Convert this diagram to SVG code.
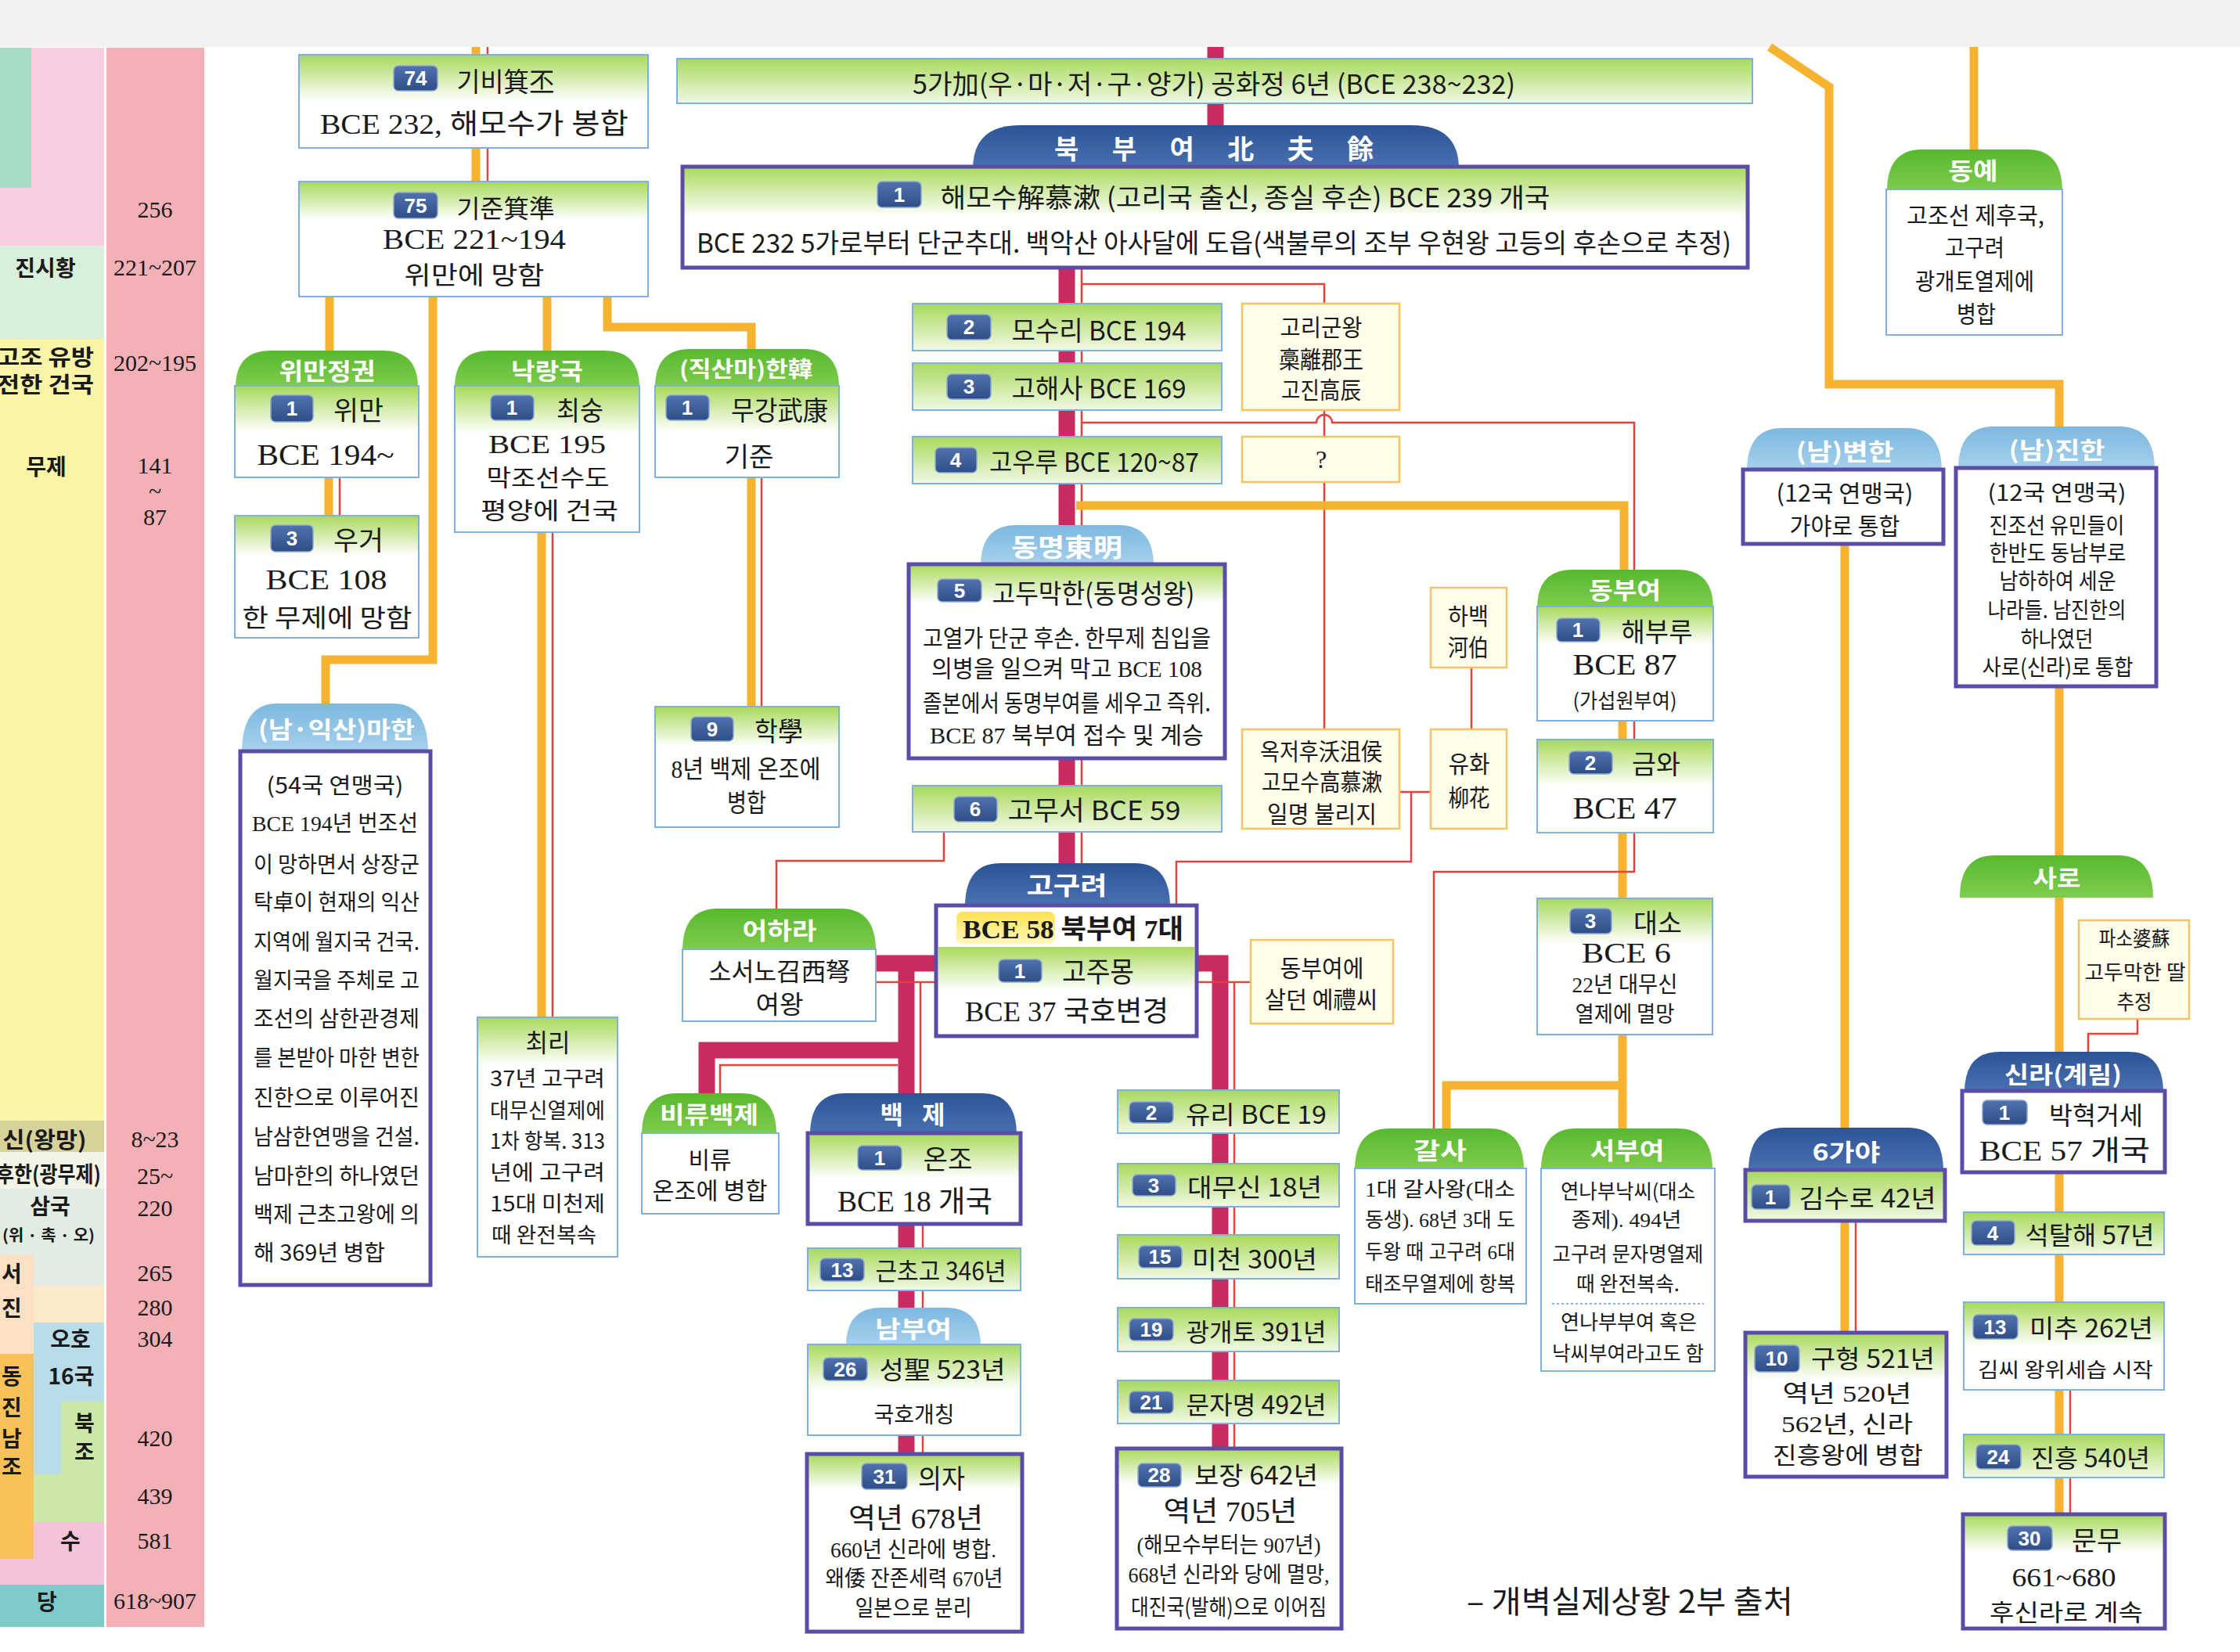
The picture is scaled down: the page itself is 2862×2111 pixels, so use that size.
<svg xmlns="http://www.w3.org/2000/svg" width="2862" height="2111" viewBox="0 0 2862 2111">
<style>
.or{fill:none;stroke:#F6B332;stroke-width:11}
.cr{fill:none;stroke:#C92A62;stroke-width:21}
.rd{fill:none;stroke:#E0443C;stroke-width:2.5}
.b{stroke:#7DAFDF;stroke-width:2}
.p{stroke:#5A4CA7;stroke-width:5}
.c{fill:#FFFCEA;stroke:#F3C463;stroke-width:2.5}
.tg{fill:url(#gTG)}
.tb{fill:url(#gTB)}
.tl{fill:url(#gTL)}
.bd{fill:url(#gBd);stroke:#8FA7D2;stroke-width:1.5}
text{font-family:"Noto Sans CJK KR","Noto Sans",sans-serif;fill:#1a1a1a;text-anchor:middle;dominant-baseline:central}
.sf{font-family:"Liberation Serif","Noto Sans CJK KR",serif}
.bt{font-family:"Liberation Sans",sans-serif;font-weight:bold;fill:#fff;font-size:26px}
.tt{fill:#fff;font-weight:bold}
.era{font-weight:bold;font-size:28px}
.yr{font-family:"Liberation Serif",serif;font-size:30px}
.st{text-anchor:start}
</style>
<defs>
<linearGradient id="gA" x1="0" y1="0" x2="0" y2="1"><stop offset="0" stop-color="#A9D95B"/><stop offset="1" stop-color="#F1F9E6"/></linearGradient>
<linearGradient id="gB" x1="0" y1="0" x2="0" y2="1"><stop offset="0" stop-color="#A9D95B"/><stop offset="0.5" stop-color="#FFFFFF"/></linearGradient>
<linearGradient id="gC" x1="0" y1="0" x2="0" y2="1"><stop offset="0" stop-color="#A9D95B"/><stop offset="0.33" stop-color="#FFFFFF"/></linearGradient>
<linearGradient id="gD" x1="0" y1="0" x2="0" y2="1"><stop offset="0" stop-color="#A9D95B"/><stop offset="0.2" stop-color="#FFFFFF"/></linearGradient>
<linearGradient id="gTG" x1="0" y1="0" x2="0" y2="1"><stop offset="0" stop-color="#57B92F"/><stop offset="1" stop-color="#80CC4C"/></linearGradient>
<linearGradient id="gTB" x1="0" y1="0" x2="0" y2="1"><stop offset="0" stop-color="#2D5496"/><stop offset="1" stop-color="#4A72B3"/></linearGradient>
<linearGradient id="gTL" x1="0" y1="0" x2="0" y2="1"><stop offset="0" stop-color="#7EB8E0"/><stop offset="1" stop-color="#A6D1EC"/></linearGradient>
<linearGradient id="gBd" x1="0" y1="0" x2="0" y2="1"><stop offset="0" stop-color="#5072AE"/><stop offset="1" stop-color="#2F4E88"/></linearGradient>
<linearGradient id="gY" x1="0" y1="0" x2="0" y2="1"><stop offset="0" stop-color="#FFE24F"/><stop offset="1" stop-color="#FFF7BC"/></linearGradient>
</defs>
<rect width="2862" height="2111" fill="#FFFFFF"/>
<rect width="2862" height="60" fill="#F2F2F2"/>

<g id="timeline">
<rect x="0" y="61" width="133" height="2018" fill="#FAF5A6"/>
<rect x="0" y="61" width="40" height="179" fill="#A5DCC5"/>
<rect x="40" y="61" width="93" height="179" fill="#F7CCDF"/>
<rect x="0" y="240" width="133" height="74" fill="#F7CCDF"/>
<rect x="0" y="314" width="133" height="119" fill="#D8EFDC"/>
<rect x="0" y="1432" width="133" height="40" fill="#D6D29A"/>
<rect x="0" y="1472" width="133" height="47" fill="#F3F3E6"/>
<rect x="0" y="1519" width="133" height="124" fill="#E2ECE2"/>
<rect x="0" y="1603" width="43" height="127" fill="#FBE0C4"/>
<rect x="43" y="1643" width="90" height="47" fill="#FBEAC8"/>
<rect x="43" y="1690" width="90" height="101" fill="#B9DDE8"/>
<rect x="43" y="1791" width="35" height="93" fill="#B9DDE8"/>
<rect x="78" y="1791" width="55" height="154" fill="#CBE8A6"/>
<rect x="43" y="1884" width="35" height="61" fill="#CBE8A6"/>
<rect x="0" y="1730" width="43" height="262" fill="#F9C15A"/>
<rect x="43" y="1945" width="90" height="80" fill="#F6C2D9"/>
<rect x="0" y="1992" width="43" height="33" fill="#F6C2D9"/>
<rect x="0" y="2025" width="133" height="54" fill="#7ECACB"/>
<rect x="136" y="61" width="125" height="2018" fill="#F3B0B6"/>
<text class="yr" x="198" y="267">256</text>
<text class="era" x="58" y="341">진시황</text>
<text class="yr" x="198" y="341">221~207</text>
<text class="era" x="58" y="455" font-size="22" textLength="124" lengthAdjust="spacingAndGlyphs">고조 유방</text>
<text class="era" x="58" y="490" font-size="22" textLength="124" lengthAdjust="spacingAndGlyphs">전한 건국</text>
<text class="yr" x="198" y="463">202~195</text>
<text class="era" x="59" y="595">무제</text>
<text class="yr" x="198" y="594">141</text>
<text class="yr" x="198" y="627" font-size="22">~</text>
<text class="yr" x="198" y="660">87</text>
<text class="era" x="57" y="1455" font-size="26" textLength="107" lengthAdjust="spacingAndGlyphs">신(왕망)</text>
<text class="yr" x="198" y="1455">8~23</text>
<text class="era" x="62" y="1499" font-size="26" textLength="134" lengthAdjust="spacingAndGlyphs">후한(광무제)</text>
<text class="yr" x="198" y="1502">25~</text>
<text class="era" x="64" y="1540" font-size="28">삼국</text>
<text class="yr" x="198" y="1543">220</text>
<text x="62" y="1577" font-size="20" font-weight="bold" textLength="118" lengthAdjust="spacingAndGlyphs">(위 · 촉 · 오)</text>
<text class="era" x="15" y="1626">서</text>
<text class="era" x="15" y="1670">진</text>
<text class="yr" x="198" y="1626">265</text>
<text class="yr" x="198" y="1670">280</text>
<text class="era" x="90" y="1710">오호</text>
<text class="yr" x="198" y="1710">304</text>
<text class="era" x="91" y="1757">16국</text>
<text class="era" x="15" y="1757">동</text>
<text class="era" x="15" y="1797">진</text>
<text class="era" x="15" y="1837">남</text>
<text class="era" x="15" y="1873">조</text>
<text class="era" x="108" y="1817">북</text>
<text class="era" x="108" y="1854">조</text>
<text class="yr" x="198" y="1837">420</text>
<text class="yr" x="198" y="1911">439</text>
<text class="era" x="90" y="1968">수</text>
<text class="yr" x="198" y="1968">581</text>
<text class="era" x="60" y="2045">당</text>
<text class="yr" x="198" y="2045">618~907</text>
</g>

<g id="connectors">
<path class="or" d="M608 60V70M608 189V232"/>
<path class="rd" d="M623 60V70M623 189V232"/>
<path class="or" d="M421 379V448"/>
<path class="or" d="M553 379V843H416V899"/>
<path class="or" d="M699 379V448"/>
<path class="or" d="M776 379V418H960V446"/>
<path class="or" d="M420 610V659"/>
<path class="rd" d="M434 610V659"/>
<path class="or" d="M692 680V1300"/>
<path class="rd" d="M706 680V1300"/>
<path class="or" d="M960 610V903"/>
<path class="rd" d="M973 610V903"/>
<path class="cr" d="M1553 60V75M1553 132V162"/>
<path class="cr" d="M1363 342V1105"/>
<path class="rd" d="M1382 342V1105"/>
<path class="rd" d="M1382 363H1692V388"/>
<path class="rd" d="M1692 524V558M1692 616V932"/>
<path class="rd" d="M1382 540H1682A10 10 0 0 1 1702 540H2088V730"/>
<path class="or" d="M1375 646H2075V730"/>
<path class="or" d="M2073 921V945"/>
<path class="rd" d="M2088 921V945"/>
<path class="or" d="M2073 1064V1442M2073 1387H1848V1442"/>
<path class="rd" d="M2088 1064V1114H1832V1442"/>
<path class="rd" d="M1880 853V932"/>
<path class="rd" d="M1788 1012H1828M1803 1012V1101H1503V1158"/>
<path class="rd" d="M1206 1063V1100H992V1161"/>
<path class="cr" d="M1196 1231H1119M1158 1231V1397M1158 1342H903V1397"/>
<path class="rd" d="M1119 1255H1196M1176 1255V1397M1147 1361H920V1397"/>
<path class="cr" d="M1529 1231H1559V1851"/>
<path class="rd" d="M1529 1255H1598M1577 1255V1851"/>
<path class="cr" d="M1158 1564V1858"/>
<path class="rd" d="M1179 1564V1858"/>
<path class="or" d="M2261 60L2337 111V491H2631V545"/>
<path class="or" d="M2522 60V191"/>
<path class="or" d="M2357 695V1441"/>
<path class="or" d="M2631 877V1935"/>
<path class="rd" d="M2731 1302V1321H2668V1344"/>
<path class="rd" d="M2645 1776V1935"/>
<path class="or" d="M2357 1560V1703"/>
<path class="rd" d="M2371 1560V1703"/>
</g>

<g id="n74">
<rect x="382" y="70" width="446" height="119" class="b" fill="url(#gB)"/>
<rect class="bd" x="503" y="84" width="56" height="32" rx="6"/><text class="bt" x="531" y="100">74</text>
<text x="646" y="102" font-size="34" textLength="125" lengthAdjust="spacingAndGlyphs">기비箕丕</text>
<text class="sf" x="606" y="159" font-size="36" textLength="394" lengthAdjust="spacingAndGlyphs">BCE 232, 해모수가 봉합</text>
</g>
<g id="n75">
<rect x="382" y="232" width="446" height="147" class="b" fill="url(#gC)"/>
<rect class="bd" x="503" y="246" width="56" height="33" rx="6"/><text class="bt" x="531" y="263">75</text>
<text x="646" y="264" font-size="32" textLength="125" lengthAdjust="spacingAndGlyphs">기준箕準</text>
<text class="sf" x="606" y="306" font-size="36" textLength="234" lengthAdjust="spacingAndGlyphs">BCE 221~194</text>
<text x="606" y="349" font-size="32" textLength="179" lengthAdjust="spacingAndGlyphs">위만에 망함</text>
</g>
<g id="n-wiman">
<path class="tg" d="M301 495Q301 448 346 448H489Q534 448 534 495Z"/>
<text class="tt" x="418" y="472" font-size="30" textLength="123" lengthAdjust="spacingAndGlyphs">위만정권</text>
<rect x="300" y="493" width="235" height="117" class="b" fill="url(#gB)"/>
<rect class="bd" x="346" y="505" width="54" height="34" rx="6"/><text class="bt" x="373" y="522">1</text>
<text x="458" y="522" font-size="34" textLength="64" lengthAdjust="spacingAndGlyphs">위만</text>
<text class="sf" x="416" y="581" font-size="38" textLength="175" lengthAdjust="spacingAndGlyphs">BCE 194~</text>
</g>
<g id="n-ugeo">
<rect x="300" y="659" width="235" height="156" class="b" fill="url(#gC)"/>
<rect class="bd" x="346" y="671" width="54" height="34" rx="6"/><text class="bt" x="373" y="688">3</text>
<text x="458" y="688" font-size="34" textLength="64" lengthAdjust="spacingAndGlyphs">우거</text>
<text class="sf" x="417" y="741" font-size="36" textLength="155" lengthAdjust="spacingAndGlyphs">BCE 108</text>
<text x="418" y="787" font-size="32" textLength="217" lengthAdjust="spacingAndGlyphs">한 무제에 망함</text>
</g>
<g id="n-nakrang">
<path class="tg" d="M581 495Q581 448 626 448H772Q817 448 817 495Z"/>
<text class="tt" x="699" y="472" font-size="30" textLength="92" lengthAdjust="spacingAndGlyphs">낙랑국</text>
<rect x="581" y="493" width="236" height="187" class="b" fill="url(#gC)"/>
<rect class="bd" x="627" y="505" width="55" height="32" rx="6"/><text class="bt" x="654" y="521">1</text>
<text x="741" y="522" font-size="34" textLength="60" lengthAdjust="spacingAndGlyphs">최숭</text>
<text class="sf" x="699" y="567" font-size="34" textLength="150" lengthAdjust="spacingAndGlyphs">BCE 195</text>
<text x="700" y="608" font-size="30" textLength="157" lengthAdjust="spacingAndGlyphs">막조선수도</text>
<text x="702" y="650" font-size="30" textLength="176" lengthAdjust="spacingAndGlyphs">평양에 건국</text>
</g>
<g id="n-han">
<path class="tg" d="M837 495Q837 446 882 446H1027Q1072 446 1072 495Z"/>
<text class="tt" x="953" y="470" font-size="28" textLength="170" lengthAdjust="spacingAndGlyphs">(직산마)한韓</text>
<rect x="837" y="493" width="235" height="117" class="b" fill="url(#gB)"/>
<rect class="bd" x="851" y="505" width="55" height="32" rx="6"/><text class="bt" x="878" y="521">1</text>
<text x="996" y="522" font-size="34" textLength="124" lengthAdjust="spacingAndGlyphs">무강武康</text>
<text x="957" y="581" font-size="34" textLength="63" lengthAdjust="spacingAndGlyphs">기준</text>
</g>
<g id="n-hak">
<rect x="837" y="903" width="235" height="154" class="b" fill="url(#gC)"/>
<rect class="bd" x="883" y="916" width="54" height="31" rx="6"/><text class="bt" x="910" y="932">9</text>
<text x="995" y="932" font-size="34" textLength="62" lengthAdjust="spacingAndGlyphs">학學</text>
<text class="sf" x="953" y="983" font-size="32" textLength="191" lengthAdjust="spacingAndGlyphs">8년 백제 온조에</text>
<text x="954" y="1023" font-size="32" textLength="50" lengthAdjust="spacingAndGlyphs">병합</text>
</g>
<g id="n-mahan">
<path class="tl" d="M309 962Q309 899 354 899H502Q547 899 547 962Z"/>
<text class="tt" x="430" y="930" font-size="30" textLength="200" lengthAdjust="spacingAndGlyphs">(남·익산)마한</text>
<rect x="307" y="960" width="243" height="682" class="p" fill="#fff"/>
<text x="428" y="1002" font-size="28" textLength="175" lengthAdjust="spacingAndGlyphs">(54국 연맹국)</text>
<text class="sf st" x="322" y="1052" font-size="28" textLength="212" lengthAdjust="spacingAndGlyphs">BCE 194년 번조선</text>
<text class="st" x="324" y="1103" font-size="28" textLength="212" lengthAdjust="spacingAndGlyphs">이 망하면서 상장군</text>
<text class="st" x="324" y="1151" font-size="28" textLength="212" lengthAdjust="spacingAndGlyphs">탁卓이 현재의 익산</text>
<text class="st" x="324" y="1202" font-size="28" textLength="212" lengthAdjust="spacingAndGlyphs">지역에 월지국 건국.</text>
<text class="st" x="324" y="1251" font-size="28" textLength="212" lengthAdjust="spacingAndGlyphs">월지국을 주체로 고</text>
<text class="st" x="324" y="1300" font-size="28" textLength="212" lengthAdjust="spacingAndGlyphs">조선의 삼한관경제</text>
<text class="st" x="324" y="1350" font-size="28" textLength="212" lengthAdjust="spacingAndGlyphs">를 본받아 마한 변한</text>
<text class="st" x="324" y="1401" font-size="28" textLength="212" lengthAdjust="spacingAndGlyphs">진한으로 이루어진</text>
<text class="st" x="324" y="1451" font-size="28" textLength="212" lengthAdjust="spacingAndGlyphs">남삼한연맹을 건설.</text>
<text class="st" x="324" y="1501" font-size="28" textLength="212" lengthAdjust="spacingAndGlyphs">남마한의 하나였던</text>
<text class="st" x="324" y="1550" font-size="28" textLength="212" lengthAdjust="spacingAndGlyphs">백제 근초고왕에 의</text>
<text class="st" x="324" y="1599" font-size="28" textLength="168" lengthAdjust="spacingAndGlyphs">해 369년 병합</text>
</g>
<g id="n-choeri">
<rect x="610" y="1300" width="179" height="306" class="b" fill="url(#gD)"/>
<text x="700" y="1330" font-size="32" textLength="57" lengthAdjust="spacingAndGlyphs">최리</text>
<text class="st" x="626" y="1376" font-size="27" textLength="147" lengthAdjust="spacingAndGlyphs">37년  고구려</text>
<text class="st" x="626" y="1417" font-size="27" textLength="147" lengthAdjust="spacingAndGlyphs">대무신열제에</text>
<text class="st" x="626" y="1456" font-size="27" textLength="147" lengthAdjust="spacingAndGlyphs">1차 항복. 313</text>
<text class="st" x="626" y="1496" font-size="27" textLength="147" lengthAdjust="spacingAndGlyphs">년에  고구려</text>
<text class="st" x="626" y="1536" font-size="27" textLength="147" lengthAdjust="spacingAndGlyphs">15대  미천제</text>
<text class="st" x="628" y="1576" font-size="27" textLength="134" lengthAdjust="spacingAndGlyphs">때 완전복속</text>
</g>

<g id="n-5ga">
<rect x="865" y="75" width="1374" height="57" class="b" fill="url(#gA)"/>
<text x="1551" y="105" font-size="34" textLength="770" lengthAdjust="spacingAndGlyphs">5가加(우·마·저·구·양가) 공화정 6년 (BCE 238~232)</text>
</g>
<g id="n-bukbuyeo">
<path class="tb" d="M1243 216Q1243 160 1303 160H1804Q1864 160 1864 216Z"/>
<text class="tt" x="1551" y="188" font-size="34" textLength="408" lengthAdjust="spacing">북 부 여 北 夫 餘</text>
<rect x="872" y="213" width="1361" height="129" class="p" fill="url(#gB)"/>
<rect class="bd" x="1121" y="232" width="56" height="33" rx="6"/><text class="bt" x="1149" y="249">1</text>
<text x="1591" y="250" font-size="34" textLength="779" lengthAdjust="spacingAndGlyphs">해모수解慕漱 (고리국 출신, 종실 후손) BCE 239 개국</text>
<text x="1551" y="308" font-size="34" textLength="1322" lengthAdjust="spacingAndGlyphs">BCE 232 5가로부터 단군추대. 백악산 아사달에 도읍(색불루의 조부 우현왕 고등의 후손으로 추정)</text>
</g>
<g id="n-mosuri">
<rect x="1166" y="388" width="395" height="60" class="b" fill="url(#gA)"/>
<rect class="bd" x="1210" y="402" width="56" height="32" rx="6"/><text class="bt" x="1238" y="418">2</text>
<text x="1404" y="420" font-size="34" textLength="223" lengthAdjust="spacingAndGlyphs">모수리 BCE 194</text>
</g>
<g id="n-gohaesa">
<rect x="1166" y="464" width="395" height="60" class="b" fill="url(#gA)"/>
<rect class="bd" x="1210" y="478" width="56" height="32" rx="6"/><text class="bt" x="1238" y="494">3</text>
<text x="1404" y="494" font-size="34" textLength="223" lengthAdjust="spacingAndGlyphs">고해사 BCE 169</text>
</g>
<g id="n-gouru">
<rect x="1166" y="558" width="395" height="60" class="b" fill="url(#gA)"/>
<rect class="bd" x="1195" y="572" width="53" height="32" rx="6"/><text class="bt" x="1221" y="588">4</text>
<text x="1398" y="588" font-size="34" textLength="268" lengthAdjust="spacingAndGlyphs">고우루 BCE 120~87</text>
</g>
<g id="n-gori">
<rect x="1587" y="388" width="201" height="136" class="c"/>
<text x="1688" y="416" font-size="30" textLength="105" lengthAdjust="spacingAndGlyphs">고리군왕</text>
<text x="1688" y="457" font-size="30" textLength="108" lengthAdjust="spacingAndGlyphs">槀離郡王</text>
<text x="1688" y="496" font-size="30" textLength="102" lengthAdjust="spacingAndGlyphs">고진高辰</text>
</g>
<g id="n-q">
<rect x="1587" y="558" width="201" height="58" class="c"/>
<text class="sf" x="1688" y="587" font-size="32">?</text>
</g>
<g id="n-godumak">
<path class="tl" d="M1253 723Q1253 671 1298 671H1429Q1474 671 1474 723Z"/>
<text class="tt" x="1363" y="697" font-size="32" textLength="142" lengthAdjust="spacingAndGlyphs">동명東明</text>
<rect x="1161" y="721" width="404" height="248" class="p" fill="url(#gD)"/>
<rect class="bd" x="1198" y="740" width="56" height="29" rx="6"/><text class="bt" x="1226" y="755">5</text>
<text x="1397" y="756" font-size="34" textLength="259" lengthAdjust="spacingAndGlyphs">고두막한(동명성왕)</text>
<text x="1363" y="813" font-size="30" textLength="368" lengthAdjust="spacingAndGlyphs">고열가 단군 후손. 한무제 침입을</text>
<text class="sf" x="1363" y="854" font-size="30" textLength="346" lengthAdjust="spacingAndGlyphs">의병을 일으켜 막고 BCE 108</text>
<text x="1363" y="896" font-size="30" textLength="368" lengthAdjust="spacingAndGlyphs">졸본에서 동명부여를 세우고 즉위.</text>
<text class="sf" x="1363" y="939" font-size="30" textLength="350" lengthAdjust="spacingAndGlyphs">BCE 87 북부여 접수 및 계승</text>
</g>
<g id="n-gomuseo">
<rect x="1166" y="1004" width="395" height="59" class="b" fill="url(#gA)"/>
<rect class="bd" x="1219" y="1018" width="55" height="32" rx="6"/><text class="bt" x="1246" y="1034">6</text>
<text x="1398" y="1033" font-size="34" textLength="221" lengthAdjust="spacingAndGlyphs">고무서 BCE 59</text>
</g>
<g id="n-okjeo">
<rect x="1587" y="932" width="201" height="127" class="c"/>
<text x="1688" y="958" font-size="30" textLength="156" lengthAdjust="spacingAndGlyphs">옥저후沃沮侯</text>
<text x="1689" y="997" font-size="30" textLength="154" lengthAdjust="spacingAndGlyphs">고모수高慕漱</text>
<text x="1689" y="1038" font-size="30" textLength="140" lengthAdjust="spacingAndGlyphs">일명 불리지</text>
</g>
<g id="n-habaek">
<rect x="1828" y="751" width="97" height="102" class="c"/>
<text x="1876" y="785" font-size="30" textLength="52" lengthAdjust="spacingAndGlyphs">하백</text>
<text x="1876" y="825" font-size="30" textLength="52" lengthAdjust="spacingAndGlyphs">河伯</text>
</g>
<g id="n-yuhwa">
<rect x="1828" y="932" width="97" height="127" class="c"/>
<text x="1877" y="974" font-size="30" textLength="53" lengthAdjust="spacingAndGlyphs">유화</text>
<text x="1877" y="1017" font-size="30" textLength="53" lengthAdjust="spacingAndGlyphs">柳花</text>
</g>
<g id="n-dongbuyeo">
<path class="tg" d="M1964 777Q1964 728 2009 728H2144Q2189 728 2189 777Z"/>
<text class="tt" x="2076" y="752" font-size="30" textLength="92" lengthAdjust="spacingAndGlyphs">동부여</text>
<rect x="1964" y="775" width="225" height="146" class="b" fill="url(#gC)"/>
<rect class="bd" x="1989" y="790" width="55" height="30" rx="6"/><text class="bt" x="2016" y="805">1</text>
<text x="2117" y="805" font-size="34" textLength="91" lengthAdjust="spacingAndGlyphs">해부루</text>
<text class="sf" x="2076" y="849" font-size="38" textLength="133" lengthAdjust="spacingAndGlyphs">BCE 87</text>
<text x="2076" y="893" font-size="26" textLength="133" lengthAdjust="spacingAndGlyphs">(가섭원부여)</text>
</g>
<g id="n-geumwa">
<rect x="1964" y="945" width="225" height="119" class="b" fill="url(#gB)"/>
<rect class="bd" x="2005" y="960" width="55" height="29" rx="6"/><text class="bt" x="2032" y="975">2</text>
<text x="2116" y="974" font-size="34" textLength="62" lengthAdjust="spacingAndGlyphs">금와</text>
<text class="sf" x="2076" y="1032" font-size="40" textLength="133" lengthAdjust="spacingAndGlyphs">BCE 47</text>
</g>
<g id="n-daeso">
<rect x="1964" y="1148" width="224" height="174" class="b" fill="url(#gC)"/>
<rect class="bd" x="2006" y="1161" width="53" height="32" rx="6"/><text class="bt" x="2032" y="1177">3</text>
<text x="2118" y="1177" font-size="34" textLength="62" lengthAdjust="spacingAndGlyphs">대소</text>
<text class="sf" x="2078" y="1218" font-size="36" textLength="114" lengthAdjust="spacingAndGlyphs">BCE 6</text>
<text class="sf" x="2076" y="1258" font-size="28" textLength="135" lengthAdjust="spacingAndGlyphs">22년 대무신</text>
<text x="2076" y="1294" font-size="28" textLength="127" lengthAdjust="spacingAndGlyphs">열제에 멸망</text>
</g>
<g id="n-galsa">
<path class="tg" d="M1731 1495Q1731 1442 1776 1442H1902Q1947 1442 1947 1495Z"/>
<text class="tt" x="1840" y="1468" font-size="30" textLength="68" lengthAdjust="spacingAndGlyphs">갈사</text>
<rect x="1731" y="1493" width="219" height="173" class="b" fill="#fff"/>
<text class="sf st" x="1744" y="1520" font-size="26" textLength="192" lengthAdjust="spacingAndGlyphs">1대  갈사왕(대소</text>
<text class="sf st" x="1744" y="1559" font-size="26" textLength="192" lengthAdjust="spacingAndGlyphs">동생). 68년 3대 도</text>
<text class="sf st" x="1744" y="1600" font-size="26" textLength="192" lengthAdjust="spacingAndGlyphs">두왕 때 고구려 6대</text>
<text class="st" x="1744" y="1638" font-size="26" textLength="192" lengthAdjust="spacingAndGlyphs">태조무열제에 항복</text>
</g>
<g id="n-seobuyeo">
<path class="tg" d="M1969 1495Q1969 1442 2014 1442H2143Q2188 1442 2188 1495Z"/>
<text class="tt" x="2079" y="1468" font-size="30" textLength="95" lengthAdjust="spacingAndGlyphs">서부여</text>
<rect x="1969" y="1493" width="222" height="259" class="b" fill="#fff"/>
<text x="2080" y="1520" font-size="26" textLength="172" lengthAdjust="spacingAndGlyphs">연나부낙씨(대소</text>
<text class="sf" x="2078" y="1559" font-size="26" textLength="141" lengthAdjust="spacingAndGlyphs">종제).  494년</text>
<text x="2080" y="1600" font-size="26" textLength="193" lengthAdjust="spacingAndGlyphs">고구려 문자명열제</text>
<text x="2080" y="1638" font-size="26" textLength="132" lengthAdjust="spacingAndGlyphs">때 완전복속.</text>
<line x1="1983" y1="1666" x2="2177" y2="1666" stroke="#8AB4DE" stroke-width="2" stroke-dasharray="3 3"/>
<text x="2081" y="1687" font-size="26" textLength="174" lengthAdjust="spacingAndGlyphs">연나부부여 혹은</text>
<text x="2080" y="1727" font-size="26" textLength="194" lengthAdjust="spacingAndGlyphs">낙씨부여라고도 함</text>
</g>
<g id="n-yessi">
<rect x="1598" y="1201" width="182" height="107" class="c"/>
<text x="1689" y="1235" font-size="30" textLength="107" lengthAdjust="spacingAndGlyphs">동부여에</text>
<text x="1688" y="1275" font-size="30" textLength="144" lengthAdjust="spacingAndGlyphs">살던 예禮씨</text>
</g>
<g id="n-eohara">
<path class="tg" d="M872 1215Q872 1161 917 1161H1074Q1119 1161 1119 1215Z"/>
<text class="tt" x="996" y="1187" font-size="30" textLength="95" lengthAdjust="spacingAndGlyphs">어하라</text>
<rect x="872" y="1213" width="247" height="92" class="b" fill="#fff"/>
<text x="996" y="1239" font-size="32" textLength="181" lengthAdjust="spacingAndGlyphs">소서노召西弩</text>
<text x="996" y="1281" font-size="32" textLength="61" lengthAdjust="spacingAndGlyphs">여왕</text>
</g>
<g id="n-goguryeo">
<path class="tb" d="M1233 1159Q1233 1103 1278 1103H1450Q1495 1103 1495 1159Z"/>
<text class="tt" x="1363" y="1129" font-size="32" textLength="103" lengthAdjust="spacingAndGlyphs">고구려</text>
<rect x="1196" y="1157" width="333" height="167" class="p" fill="#fff"/>
<rect x="1199" y="1210" width="327" height="111" fill="url(#gB)"/>
<rect x="1222" y="1165" width="126" height="41" rx="8" fill="url(#gY)"/>
<text class="sf" x="1371" y="1187" font-size="34" font-weight="bold" textLength="282" lengthAdjust="spacingAndGlyphs">BCE 58 북부여 7대</text>
<rect class="bd" x="1276" y="1226" width="55" height="29" rx="6"/><text class="bt" x="1303" y="1241">1</text>
<text x="1403" y="1239" font-size="36" textLength="92" lengthAdjust="spacingAndGlyphs">고주몽</text>
<text class="sf" x="1363" y="1293" font-size="36" textLength="260" lengthAdjust="spacingAndGlyphs">BCE 37 국호변경</text>
</g>
<g id="n-biryu">
<path class="tg" d="M820 1450Q820 1397 865 1397H947Q992 1397 992 1450Z"/>
<text class="tt" x="906" y="1422" font-size="30" textLength="126" lengthAdjust="spacingAndGlyphs">비류백제</text>
<rect x="820" y="1448" width="175" height="103" class="b" fill="#fff"/>
<text x="907" y="1480" font-size="30" textLength="55" lengthAdjust="spacingAndGlyphs">비류</text>
<text x="907" y="1519" font-size="30" textLength="147" lengthAdjust="spacingAndGlyphs">온조에 병합</text>
</g>
<g id="n-baekje">
<path class="tb" d="M1035 1450Q1035 1397 1080 1397H1254Q1299 1397 1299 1450Z"/>
<text class="tt" x="1166" y="1422" font-size="32" textLength="83" lengthAdjust="spacing">백 제</text>
<rect x="1032" y="1448" width="272" height="116" class="p" fill="url(#gB)"/>
<rect class="bd" x="1096" y="1464" width="56" height="31" rx="6"/><text class="bt" x="1124" y="1480">1</text>
<text x="1211" y="1479" font-size="34" textLength="63" lengthAdjust="spacingAndGlyphs">온조</text>
<text class="sf" x="1169" y="1535" font-size="38" textLength="198" lengthAdjust="spacingAndGlyphs">BCE 18 개국</text>
</g>
<g id="n-geunchogo">
<rect x="1032" y="1595" width="272" height="54" class="b" fill="url(#gA)"/>
<rect class="bd" x="1048" y="1608" width="56" height="29" rx="6"/><text class="bt" x="1076" y="1623">13</text>
<text x="1202" y="1622" font-size="32" textLength="167" lengthAdjust="spacingAndGlyphs">근초고 346년</text>
</g>
<g id="n-seong">
<path class="tl" d="M1081 1720Q1081 1671 1126 1671H1208Q1253 1671 1253 1720Z"/>
<text class="tt" x="1167" y="1696" font-size="30" textLength="98" lengthAdjust="spacingAndGlyphs">남부여</text>
<rect x="1032" y="1718" width="272" height="116" class="b" fill="url(#gB)"/>
<rect class="bd" x="1052" y="1735" width="56" height="29" rx="6"/><text class="bt" x="1080" y="1750">26</text>
<text x="1204" y="1748" font-size="32" textLength="161" lengthAdjust="spacingAndGlyphs">성聖 523년</text>
<text x="1168" y="1806" font-size="28" textLength="103" lengthAdjust="spacingAndGlyphs">국호개칭</text>
</g>
<g id="n-uija">
<rect x="1031" y="1858" width="275" height="227" class="p" fill="url(#gD)"/>
<rect class="bd" x="1101" y="1870" width="58" height="33" rx="6"/><text class="bt" x="1130" y="1887">31</text>
<text x="1203" y="1887" font-size="34" textLength="60" lengthAdjust="spacingAndGlyphs">의자</text>
<text class="sf" x="1170" y="1941" font-size="36" textLength="172" lengthAdjust="spacingAndGlyphs">역년 678년</text>
<text class="sf" x="1167" y="1980" font-size="28" textLength="212" lengthAdjust="spacingAndGlyphs">660년 신라에 병합.</text>
<text class="sf" x="1168" y="2017" font-size="28" textLength="227" lengthAdjust="spacingAndGlyphs">왜倭 잔존세력 670년</text>
<text x="1167" y="2053" font-size="28" textLength="149" lengthAdjust="spacingAndGlyphs">일본으로 분리</text>
</g>
<g id="n-yuri">
<rect x="1428" y="1393" width="283" height="55" class="b" fill="url(#gA)"/>
<rect class="bd" x="1443" y="1408" width="56" height="27" rx="6"/><text class="bt" x="1471" y="1422">2</text>
<text x="1605" y="1422" font-size="32" textLength="180" lengthAdjust="spacingAndGlyphs">유리 BCE 19</text>
</g>
<g id="n-daemusin">
<rect x="1428" y="1487" width="283" height="55" class="b" fill="url(#gA)"/>
<rect class="bd" x="1447" y="1501" width="55" height="27" rx="6"/><text class="bt" x="1474" y="1515">3</text>
<text x="1603" y="1515" font-size="32" textLength="172" lengthAdjust="spacingAndGlyphs">대무신 18년</text>
</g>
<g id="n-micheon">
<rect x="1428" y="1578" width="283" height="56" class="b" fill="url(#gA)"/>
<rect class="bd" x="1455" y="1592" width="55" height="28" rx="6"/><text class="bt" x="1482" y="1606">15</text>
<text x="1603" y="1607" font-size="32" textLength="160" lengthAdjust="spacingAndGlyphs">미천 300년</text>
</g>
<g id="n-gwanggaeto">
<rect x="1428" y="1671" width="283" height="56" class="b" fill="url(#gA)"/>
<rect class="bd" x="1443" y="1685" width="56" height="28" rx="6"/><text class="bt" x="1471" y="1699">19</text>
<text x="1605" y="1700" font-size="32" textLength="179" lengthAdjust="spacingAndGlyphs">광개토 391년</text>
</g>
<g id="n-munjamyeong">
<rect x="1428" y="1764" width="283" height="55" class="b" fill="url(#gA)"/>
<rect class="bd" x="1443" y="1778" width="56" height="28" rx="6"/><text class="bt" x="1471" y="1792">21</text>
<text x="1605" y="1793" font-size="32" textLength="179" lengthAdjust="spacingAndGlyphs">문자명 492년</text>
</g>
<g id="n-bojang">
<rect x="1427" y="1851" width="287" height="230" class="p" fill="url(#gD)"/>
<rect class="bd" x="1454" y="1870" width="55" height="30" rx="6"/><text class="bt" x="1481" y="1885">28</text>
<text x="1605" y="1883" font-size="32" textLength="158" lengthAdjust="spacingAndGlyphs">보장 642년</text>
<text class="sf" x="1572" y="1932" font-size="36" textLength="171" lengthAdjust="spacingAndGlyphs">역년 705년</text>
<text class="sf" x="1570" y="1974" font-size="28" textLength="235" lengthAdjust="spacingAndGlyphs">(해모수부터는 907년)</text>
<text class="sf" x="1570" y="2012" font-size="28" textLength="257" lengthAdjust="spacingAndGlyphs">668년 신라와 당에 멸망,</text>
<text x="1570" y="2052" font-size="28" textLength="250" lengthAdjust="spacingAndGlyphs">대진국(발해)으로 이어짐</text>
</g>

<g id="n-dongye">
<path class="tg" d="M2411 244Q2411 191 2456 191H2590Q2635 191 2635 244Z"/>
<text class="tt" x="2521" y="216" font-size="30" textLength="63" lengthAdjust="spacingAndGlyphs">동예</text>
<rect x="2410" y="242" width="225" height="186" class="b" fill="#fff"/>
<text x="2524" y="273" font-size="30" textLength="176" lengthAdjust="spacingAndGlyphs">고조선 제후국,</text>
<text x="2523" y="314" font-size="30" textLength="76" lengthAdjust="spacingAndGlyphs">고구려</text>
<text x="2523" y="357" font-size="30" textLength="152" lengthAdjust="spacingAndGlyphs">광개토열제에</text>
<text x="2525" y="399" font-size="30" textLength="50" lengthAdjust="spacingAndGlyphs">병합</text>
</g>
<g id="n-byeonhan">
<path class="tl" d="M2232 602Q2232 547 2277 547H2436Q2481 547 2481 602Z"/>
<text class="tt" x="2357" y="575" font-size="30" textLength="125" lengthAdjust="spacingAndGlyphs">(남)변한</text>
<rect x="2227" y="600" width="256" height="95" class="p" fill="#fff"/>
<text x="2357" y="628" font-size="30" textLength="175" lengthAdjust="spacingAndGlyphs">(12국 연맹국)</text>
<text x="2357" y="670" font-size="30" textLength="141" lengthAdjust="spacingAndGlyphs">가야로 통합</text>
</g>
<g id="n-jinhan">
<path class="tl" d="M2502 600Q2502 545 2547 545H2708Q2753 545 2753 600Z"/>
<text class="tt" x="2628" y="573" font-size="30" textLength="123" lengthAdjust="spacingAndGlyphs">(남)진한</text>
<rect x="2499" y="598" width="256" height="279" class="p" fill="#fff"/>
<text x="2628" y="628" font-size="28" textLength="177" lengthAdjust="spacingAndGlyphs">(12국 연맹국)</text>
<text x="2628" y="670" font-size="28" textLength="173" lengthAdjust="spacingAndGlyphs">진조선 유민들이</text>
<text x="2629" y="705" font-size="28" textLength="175" lengthAdjust="spacingAndGlyphs">한반도 동남부로</text>
<text x="2629" y="741" font-size="28" textLength="149" lengthAdjust="spacingAndGlyphs">남하하여 세운</text>
<text x="2628" y="778" font-size="28" textLength="177" lengthAdjust="spacingAndGlyphs">나라들. 남진한의</text>
<text x="2628" y="815" font-size="28" textLength="93" lengthAdjust="spacingAndGlyphs">하나였던</text>
<text x="2629" y="851" font-size="28" textLength="193" lengthAdjust="spacingAndGlyphs">사로(신라)로 통합</text>
</g>
<g id="n-saro">
<path class="tg" d="M2504 1147Q2504 1093 2549 1093H2706Q2751 1093 2751 1147Z"/>
<text class="tt" x="2628" y="1120" font-size="30" textLength="61" lengthAdjust="spacingAndGlyphs">사로</text>
</g>
<g id="n-paso">
<rect x="2656" y="1176" width="141" height="126" class="c"/>
<text x="2727" y="1197" font-size="26" textLength="91" lengthAdjust="spacingAndGlyphs">파소婆蘇</text>
<text x="2728" y="1240" font-size="26" textLength="129" lengthAdjust="spacingAndGlyphs">고두막한 딸</text>
<text x="2727" y="1278" font-size="26" textLength="45" lengthAdjust="spacingAndGlyphs">추정</text>
</g>
<g id="n-silla">
<path class="tb" d="M2510 1396Q2510 1344 2555 1344H2719Q2764 1344 2764 1396Z"/>
<text class="tt" x="2636" y="1371" font-size="30" textLength="150" lengthAdjust="spacingAndGlyphs">신라(계림)</text>
<rect x="2507" y="1394" width="259" height="104" class="p" fill="#fff"/>
<rect class="bd" x="2533" y="1406" width="57" height="31" rx="6"/><text class="bt" x="2561" y="1422">1</text>
<text x="2678" y="1423" font-size="32" textLength="120" lengthAdjust="spacingAndGlyphs">박혁거세</text>
<text class="sf" x="2638" y="1471" font-size="36" textLength="218" lengthAdjust="spacingAndGlyphs">BCE 57 개국</text>
</g>
<g id="n-talhae">
<rect x="2509" y="1549" width="256" height="54" class="b" fill="url(#gA)"/>
<rect class="bd" x="2519" y="1560" width="55" height="31" rx="6"/><text class="bt" x="2546" y="1576">4</text>
<text x="2670" y="1576" font-size="32" textLength="165" lengthAdjust="spacingAndGlyphs">석탈해 57년</text>
</g>
<g id="n-michu">
<rect x="2509" y="1664" width="256" height="112" class="b" fill="url(#gB)"/>
<rect class="bd" x="2521" y="1680" width="57" height="31" rx="6"/><text class="bt" x="2549" y="1696">13</text>
<text x="2672" y="1695" font-size="32" textLength="158" lengthAdjust="spacingAndGlyphs">미추 262년</text>
<text x="2639" y="1748" font-size="26" textLength="224" lengthAdjust="spacingAndGlyphs">김씨 왕위세습 시작</text>
</g>
<g id="n-jinheung">
<rect x="2509" y="1833" width="256" height="55" class="b" fill="url(#gA)"/>
<rect class="bd" x="2525" y="1846" width="57" height="31" rx="6"/><text class="bt" x="2553" y="1862">24</text>
<text x="2671" y="1861" font-size="32" textLength="152" lengthAdjust="spacingAndGlyphs">진흥 540년</text>
</g>
<g id="n-munmu">
<rect x="2508" y="1935" width="258" height="146" class="p" fill="url(#gC)"/>
<rect class="bd" x="2565" y="1950" width="57" height="31" rx="6"/><text class="bt" x="2593" y="1966">30</text>
<text x="2679" y="1966" font-size="34" textLength="64" lengthAdjust="spacingAndGlyphs">문무</text>
<text class="sf" x="2637" y="2015" font-size="34" textLength="133" lengthAdjust="spacingAndGlyphs">661~680</text>
<text x="2640" y="2058" font-size="30" textLength="196" lengthAdjust="spacingAndGlyphs">후신라로 계속</text>
</g>
<g id="n-gaya">
<path class="tb" d="M2234 1497Q2234 1441 2279 1441H2438Q2483 1441 2483 1497Z"/>
<text class="tt" x="2359" y="1470" font-size="30" textLength="87" lengthAdjust="spacingAndGlyphs">6가야</text>
<rect x="2230" y="1495" width="255" height="65" class="p" fill="url(#gA)"/>
<rect class="bd" x="2238" y="1514" width="49" height="31" rx="6"/><text class="bt" x="2262" y="1530">1</text>
<text x="2386" y="1529" font-size="32" textLength="175" lengthAdjust="spacingAndGlyphs">김수로 42년</text>
</g>
<g id="n-guhyeong">
<rect x="2230" y="1703" width="257" height="184" class="p" fill="url(#gC)"/>
<rect class="bd" x="2242" y="1719" width="57" height="34" rx="6"/><text class="bt" x="2270" y="1736">10</text>
<text x="2393" y="1734" font-size="32" textLength="158" lengthAdjust="spacingAndGlyphs">구형 521년</text>
<text class="sf" x="2360" y="1780" font-size="30" textLength="165" lengthAdjust="spacingAndGlyphs">역년 520년</text>
<text class="sf" x="2360" y="1819" font-size="30" textLength="168" lengthAdjust="spacingAndGlyphs">562년, 신라</text>
<text x="2361" y="1857" font-size="30" textLength="192" lengthAdjust="spacingAndGlyphs">진흥왕에 병합</text>
</g>
<g id="source">
<text class="st" x="1874" y="2044" font-size="40" textLength="417" lengthAdjust="spacingAndGlyphs">– 개벽실제상황 2부 출처</text>
</g>
</svg>
